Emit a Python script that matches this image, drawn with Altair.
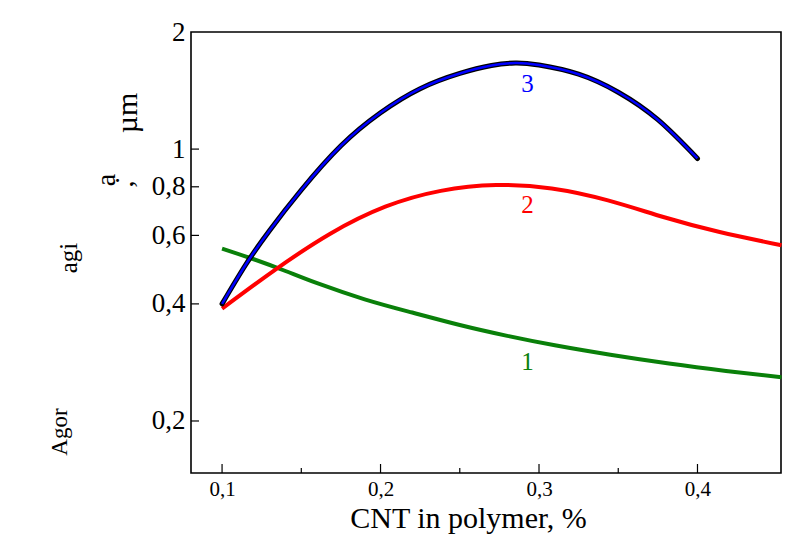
import altair as alt
import pandas as pd

# Curve 1 (green)
x1 = [0.1, 0.12, 0.14, 0.16, 0.19, 0.22, 0.25, 0.28, 0.31, 0.345, 0.382, 0.418, 0.453]
y1 = [0.555, 0.521, 0.486, 0.452, 0.411, 0.380, 0.353, 0.331, 0.313, 0.296, 0.281, 0.269, 0.259]
# Curve 2 (red)
x2 = [0.1, 0.133, 0.168, 0.203, 0.238, 0.273, 0.308, 0.3435, 0.379, 0.414, 0.453]
y2 = [0.389, 0.488, 0.605, 0.711, 0.781, 0.808, 0.792, 0.738, 0.668, 0.612, 0.566]
# Curve 3 (blue, black outline)
x3 = [0.1, 0.115, 0.13, 0.15, 0.175, 0.2, 0.225, 0.25, 0.27, 0.285, 0.3, 0.325, 0.35, 0.375, 0.4]
y3 = [0.4, 0.505, 0.618, 0.785, 1.02, 1.24, 1.43, 1.565, 1.64, 1.665, 1.645, 1.558, 1.40, 1.19, 0.946]

label_text = ["3", "2", "1"]
label_x = [0.2927, 0.2927, 0.2927]
label_y = [1.47, 0.718, 0.283]
label_color = ["#0000ff", "#ff0000", "#0a800a"]

x_major = [0.1, 0.2, 0.3, 0.4]
x_minor = [0.15, 0.25, 0.35]
y_ticks = [0.2, 0.4, 0.6, 0.8, 1.0]
y_labels = [0.2, 0.4, 0.6, 0.8, 1.0, 2.0]

W, H = 590, 441
FONT = "Liberation Serif"

xs = alt.Scale(domain=[0.0804, 0.4527], nice=False, zero=False)
ys = alt.Scale(type="log", domain=[0.147, 2.0], nice=False)

d1 = pd.DataFrame({"x": x1, "y": y1})
d2 = pd.DataFrame({"x": x2, "y": y2})
d3 = pd.DataFrame({"x": x3, "y": y3})
dl = pd.DataFrame({"t": label_text, "x": label_x, "y": label_y, "c": label_color})

xaxis = alt.Axis(values=x_major, labelExpr="replace(format(datum.value, '.1f'), '.', ',')",
                 tickSize=0, domain=False, grid=False, labelFont=FONT, labelFontSize=21,
                 labelColor="black", labelPadding=5, title="CNT in polymer, %",
                 titleFont=FONT, titleFontSize=30, titleFontWeight="normal", titleColor="black",
                 titleX=277, titleY=54, titleBaseline="alphabetic")
yaxis = alt.Axis(values=y_labels, labelExpr="replace(format(datum.value, ''), '.', ',')",
                 tickSize=0, domain=False, grid=False, labelFont=FONT, labelFontSize=27,
                 labelColor="black", labelPadding=6, title=None)

base_x = alt.X("x:Q", scale=xs, axis=xaxis)
base_y = alt.Y("y:Q", scale=ys, axis=yaxis)

green = alt.Chart(d1).mark_line(color="#0a800a", strokeWidth=4, interpolate="natural").encode(
    x=base_x, y=base_y)
red = alt.Chart(d2).mark_line(color="#ff0000", strokeWidth=4, interpolate="natural").encode(
    x="x:Q", y="y:Q")
black = alt.Chart(d3).mark_line(color="black", strokeWidth=5, strokeCap="round",
                                interpolate="natural").encode(x="x:Q", y="y:Q")
blue = alt.Chart(d3).mark_line(color="#0000ff", strokeWidth=2.5, interpolate="natural").encode(
    x="x:Q", y="y:Q")
labels = alt.Chart(dl).mark_text(font=FONT, fontSize=25, baseline="middle", align="center").encode(
    x="x:Q", y="y:Q", text="t:N", color=alt.Color("c:N", scale=None))

yt = alt.Chart(pd.DataFrame({"y": y_ticks})).mark_rule(color="black", strokeWidth=1.2).encode(
    y="y:Q", x=alt.value(0), x2=alt.value(8))
xt = alt.Chart(pd.DataFrame({"x": x_major})).mark_rule(color="black", strokeWidth=1.2).encode(
    x="x:Q", y=alt.value(H), y2=alt.value(H - 9))
xm = alt.Chart(pd.DataFrame({"x": x_minor})).mark_rule(color="black", strokeWidth=1.2).encode(
    x="x:Q", y=alt.value(H), y2=alt.value(H - 5))

# garbled y-axis title fragments (as in the reference)
frag_text = ["µm", "ạ", ",", "agi", "Agor"]
frag_dx = [-63, -84, -66, -122, -131]
frag_dy = [81, 148, 152, 226, 400]
frag_size = [30, 28, 28, 25, 23]
frags = []
for t, fx, fy, fs in zip(frag_text, frag_dx, frag_dy, frag_size):
    frags.append(alt.Chart(pd.DataFrame({"t": [t]})).mark_text(
        font=FONT, fontSize=fs, angle=270, align="center", baseline="middle", color="black"
    ).encode(text="t:N", x=alt.value(fx), y=alt.value(fy)))

chart = alt.layer(green, red, black, blue, labels, yt, xt, xm, *frags).properties(
    width=W, height=H,
    background="white",
    autosize=alt.AutoSizeParams(type="none"),
    padding={"left": 183, "top": 24, "right": 20, "bottom": 62},
).configure_view(stroke="black", strokeWidth=1.6)

chart.save("out.html", embed_options={"renderer": "svg", "actions": False})
